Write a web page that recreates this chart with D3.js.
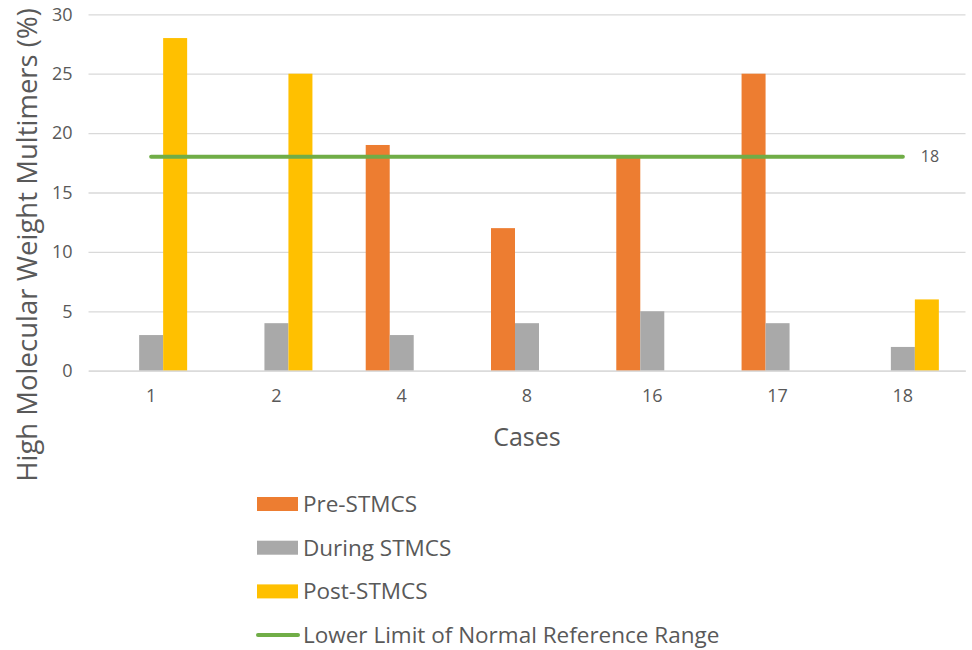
<!DOCTYPE html>
<html>
<head>
<meta charset="utf-8">
<script src="https://cdn.jsdelivr.net/npm/d3@7"></script>
<style>
  body { margin: 0; background: #fff; }
  text { font-family: "Open Sans", sans-serif; fill: #595959; }
</style>
</head>
<body>
<svg id="chart" width="972" height="650"></svg>
<script>
var cases = ['1', '2', '4', '8', '16', '17', '18']
var series = ['Pre-STMCS', 'During STMCS', 'Post-STMCS']
var preValues = [0, 0, 19, 12, 18, 25, 0]
var duringValues = [3, 4, 3, 4, 5, 4, 2]
var postValues = [28, 25, 0, 0, 0, 0, 6]
var refValue = 18
var refLabel = 'Lower Limit of Normal Reference Range'
var yTicks = [0, 5, 10, 15, 20, 25, 30]
var colors = ['#ED7D31', '#A9A9A9', '#FFC000']
var refColor = '#70AD47'

var rows = cases.map((c, i) => ({ c: c, vals: [preValues[i], duringValues[i], postValues[i]] }))

var svg = d3.select('#chart')
var plotLeft = 88.5
var plotRight = 965.5
var plotTop = 14.3
var plotBottom = 370.7

var x0 = d3.scaleBand().domain(cases).range([plotLeft, plotRight]).padding(0)
var x1 = d3.scaleBand().domain(series).range([0, 72])
var y = d3.scaleLinear().domain([0, 30]).range([plotBottom, plotTop])

// gridlines
var yAxis = d3.axisLeft(y).tickValues(yTicks).tickSize(-(plotRight - plotLeft)).tickPadding(16)
var gy = svg.append('g').attr('transform', `translate(${plotLeft},0)`).call(yAxis)
gy.select('.domain').remove()
gy.selectAll('.tick line').attr('stroke', '#d9d9d9').attr('stroke-width', 1.3)
gy.selectAll('.tick text').attr('font-size', 18).attr('font-family', null).style('fill', '#595959')

// bars
var groups = svg.append('g').selectAll('g').data(rows).join('g')
  .attr('transform', d => `translate(${x0(d.c) + (x0.bandwidth() - 72) / 2},0)`)
groups.selectAll('rect')
  .data(d => d.vals.map((v, k) => ({ s: series[k], v: v, k: k })))
  .join('rect')
  .attr('x', d => x1(d.s))
  .attr('width', x1.bandwidth())
  .attr('y', d => y(d.v))
  .attr('height', d => y(0) - y(d.v))
  .attr('fill', d => colors[d.k])

// x axis
var xAxis = d3.axisBottom(x0).tickSize(0).tickPadding(19)
var gx = svg.append('g').attr('transform', `translate(0,${plotBottom})`).call(xAxis)
gx.select('.domain').attr('stroke', '#d9d9d9').attr('stroke-width', 1.3)
gx.selectAll('.tick text').attr('font-size', 18).attr('font-family', null).style('fill', '#595959')

// reference line
var cx = c => x0(c) + x0.bandwidth() / 2
svg.append('line')
  .attr('x1', cx(cases[0])).attr('x2', cx(cases[cases.length - 1]))
  .attr('y1', y(refValue)).attr('y2', y(refValue))
  .attr('stroke', refColor).attr('stroke-width', 4).attr('stroke-linecap', 'round')
svg.append('text')
  .attr('x', cx(cases[cases.length - 1]) + 18).attr('y', y(refValue))
  .attr('dy', '0.35em').attr('font-size', 16)
  .text(refValue)

// titles
svg.append('text').attr('x', (plotLeft + plotRight) / 2).attr('y', 446)
  .attr('text-anchor', 'middle').attr('font-size', 25).text('Cases')
svg.append('text')
  .attr('transform', `translate(37,245) rotate(-90)`)
  .attr('text-anchor', 'middle').attr('font-size', 27.5)
  .text('High Molecular Weight Multimers (%)')

// legend
var legendItems = series.map((s, i) => ({ name: s, color: colors[i], line: false }))
legendItems.push({ name: refLabel, color: refColor, line: true })
var lg = svg.append('g').selectAll('g').data(legendItems).join('g')
  .attr('transform', (d, i) => `translate(257,${504 + i * 43.7})`)
lg.filter(d => !d.line).append('rect')
  .attr('x', 0).attr('y', -7).attr('width', 41).attr('height', 14)
  .attr('fill', d => d.color)
lg.filter(d => d.line).append('line')
  .attr('x1', 1).attr('x2', 41).attr('y1', 0).attr('y2', 0)
  .attr('stroke', d => d.color).attr('stroke-width', 4).attr('stroke-linecap', 'round')
lg.append('text').attr('x', 46).attr('dy', '0.35em').attr('font-size', 22.5)
  .text(d => d.name)
</script>
</body>
</html>
